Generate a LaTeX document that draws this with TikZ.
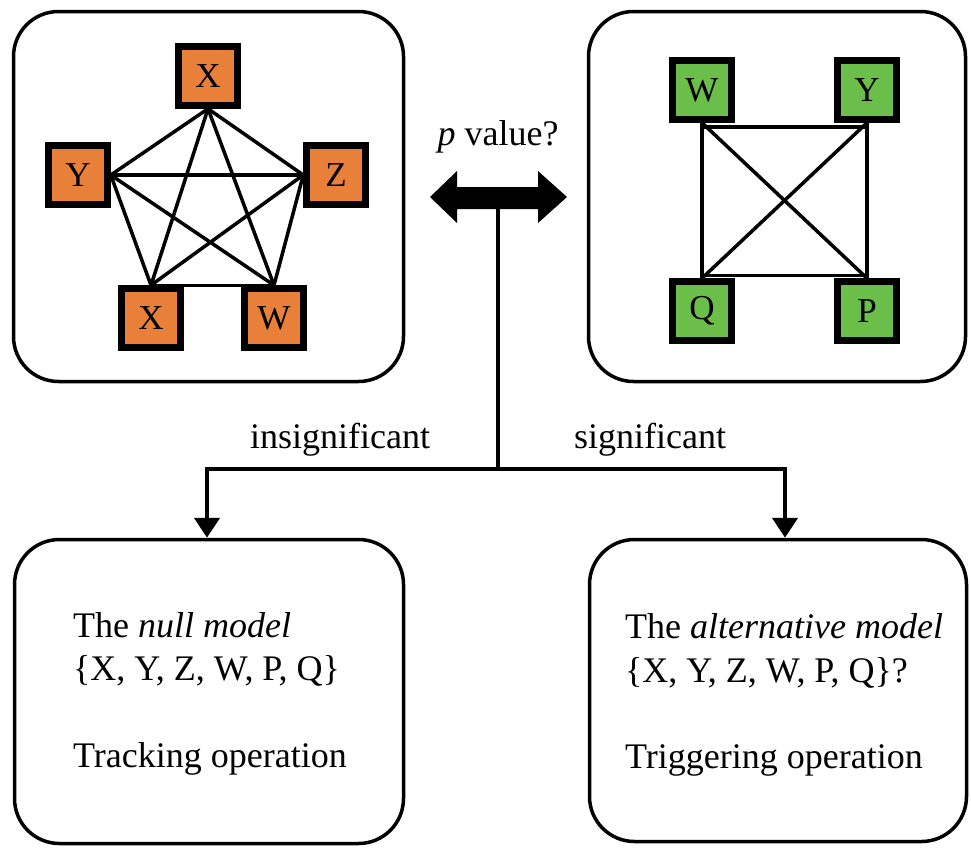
\documentclass[tikz,border=0pt]{standalone}
\usepackage{fontspec}
\setmainfont{Liberation Serif}
\usetikzlibrary{backgrounds,arrows.meta}
\definecolor{nodeorange}{RGB}{232,128,58}
\definecolor{nodegreen}{RGB}{108,190,74}
\begin{document}
\begin{tikzpicture}[x=1pt,y=-1pt,
  panel/.style={draw=black, line width=3.5pt, rounded corners=45pt, inner sep=0pt},
  vbox/.style={draw=black, line width=6.5pt, minimum size=59pt, inner sep=0pt,
               font=\fontsize{35}{40}\selectfont},
  onode/.style={vbox, fill=nodeorange},
  gnode/.style={vbox, fill=nodegreen},
  edge/.style={line width=3.5pt},
  lbl/.style={font=\fontsize{36}{43}\selectfont, inner sep=0pt},
  flow/.style={line width=4.5pt},
  flowarrow/.style={flow, -{Triangle[length=20pt,width=25pt]}},
]
\useasboundingbox (0,0) rectangle (971,849);

% panels
\node[panel, minimum width=390pt, minimum height=370pt] (leftpanel) at (208.5,196.5) {};
\node[panel, minimum width=377pt, minimum height=370pt] (rightpanel) at (777,196.5) {};
\node[panel, minimum width=389pt, minimum height=304pt] (nullbox) at (209,691.5) {};
\node[panel, minimum width=377pt, minimum height=302pt] (altbox) at (778,690.5) {};

% complete graph on five variables
\node[onode] (xt) at (208,76) {X};
\node[onode] (y1) at (78,175) {Y};
\node[onode] (z1) at (336,175) {Z};
\node[onode] (xb) at (151,318) {X};
\node[onode] (w1) at (274,318) {W};
\begin{pgfonlayer}{background}
  \draw[edge] (xt.south) -- (y1.east);
  \draw[edge] (xt.south) -- (z1.west);
  \draw[edge] (xt.south) -- (xb.north);
  \draw[edge] (xt.south) -- (w1.north);
  \draw[edge] (y1.east) -- (z1.west);
  \draw[edge] (y1.east) -- (xb.north);
  \draw[edge] (y1.east) -- (w1.north);
  \draw[edge] (z1.west) -- (xb.north);
  \draw[edge] (z1.west) -- (w1.north);
  \draw[edge] (xb.north) -- (w1.north);
\end{pgfonlayer}

% complete graph on four variables
\node[gnode] (w2) at (702,90) {W};
\node[gnode] (y2) at (867,90) {Y};
\node[gnode] (q2) at (702,311) {Q};
\node[gnode] (p2) at (867,311) {P};
\begin{pgfonlayer}{background}
  \draw[edge] ([yshift=-4pt]w2.south) -- ([yshift=-4pt]y2.south);
  \draw[edge] (w2.south) -- (q2.north);
  \draw[edge] (w2.south) -- (p2.north);
  \draw[edge] (y2.south) -- (q2.north);
  \draw[edge] (y2.south) -- (p2.north);
  \draw[edge] ([yshift=3pt]q2.north) -- ([yshift=3pt]p2.north);
\end{pgfonlayer}

% comparison arrow
\fill (430,197) -- (457,171) -- (457,187) -- (538,187) -- (538,171) -- (567,197)
  -- (538,223) -- (538,209) -- (457,209) -- (457,223) -- cycle;
\node[lbl, anchor=base] (ptext) at (498,145) {\textit{p} value?};
\coordinate (pv) at (498,205);
\coordinate (split) at (498,469);

% decision branches
\draw[flow] (pv) -- (split);
\draw[flowarrow] (split) -| ([xshift=-2pt]nullbox.north);
\draw[flowarrow] (split) -| ([xshift=7pt]altbox.north);
\node[lbl, anchor=base] (insig) at (340,448) {insignificant};
\node[lbl, anchor=base] (sig) at (650,448) {significant};

% outcome texts
\node[lbl, anchor=base west] (n1) at (73,637) {The \textit{null model}};
\node[lbl, anchor=base west] (n2) at (73,680) {\{X, Y, Z, W, P, Q\}};
\node[lbl, anchor=base west] (n3) at (73,767) {Tracking operation};
\node[lbl, anchor=base west] (a1) at (625,638) {The \textit{alternative model}};
\node[lbl, anchor=base west] (a2) at (625,682) {\{X, Y, Z, W, P, Q\}?};
\node[lbl, anchor=base west] (a3) at (625,768) {Triggering operation};
\end{tikzpicture}
\end{document}
